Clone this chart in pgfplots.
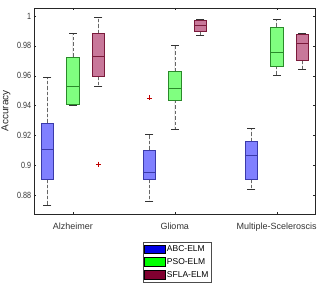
\documentclass[border=0pt]{standalone}
\usepackage{pgfplots}
\pgfplotsset{compat=1.18}
\usepgfplotslibrary{statistics}
\usepackage{fontspec}
\setmainfont{Liberation Sans}
\definecolor{abcfill}{HTML}{8080FF}
\definecolor{abcedge}{HTML}{3A3AAA}
\definecolor{psofill}{HTML}{80FF80}
\definecolor{psoedge}{HTML}{2A8A2A}
\definecolor{sflfill}{HTML}{C8789A}
\definecolor{sfledge}{HTML}{7A1A3A}
\definecolor{abcleg}{HTML}{0000E6}
\definecolor{psoleg}{HTML}{00FF00}
\definecolor{sflleg}{HTML}{800030}
\definecolor{axgray}{HTML}{262626}
\begin{document}
\begin{tikzpicture}
\begin{axis}[
  scale only axis, width=281pt, height=206pt,
  xmin=0.62, xmax=3.375, ymin=0.8673, ymax=1.0054,
  xtick={1,2,3}, xticklabels={Alzheimer,Glioma,Multiple-Sceleroscis},
  ytick={0.88,0.9,0.92,0.94,0.96,0.98,1},
  tick align=inside, major tick length=2pt,
  axis line style={axgray, line width=0.4pt},
  tick style={axgray, line width=0.4pt},
  font=\fontsize{9pt}{10pt}\selectfont,
  /pgf/number format/assume math mode=true,
  ticklabel style={font=\fontsize{9pt}{10pt}\selectfont, text=black!80},
  xticklabel style={yshift=-5pt},
  yticklabel style={xscale=0.8},
  ylabel={Accuracy},
  y label style={at={(axis description cs:-0.0996,0.5)}, anchor=center, font=\fontsize{10pt}{11pt}\selectfont, text=black!85},
  boxplot/draw direction=y,
  boxplot/box extend=0.125,
  boxplot/whisker extend=0,
  boxplot/every whisker/.style={black!60, dash pattern=on 3.5pt off 2pt, line width=0.5pt},
  legend style={at={(0.509,-0.135)}, anchor=north, draw=black!70, font=\fontsize{8.5pt}{9pt}\selectfont, inner sep=1.2pt, row sep=0pt, cells={anchor=west}, nodes={inner ysep=2.6pt, inner xsep=1.5pt}},
  legend image code/.code={\fill[#1] (0pt,-4pt) rectangle (21pt,4.5pt);},
  clip=false,
]
% ABC-ELM
\addplot[forget plot, draw=abcedge, fill=abcfill, boxplot prepared={draw position=0.75, lower whisker=0.8733, lower quartile=0.8905, median=0.9108, upper quartile=0.9285, upper whisker=0.9593}] coordinates {};
\addplot[forget plot, draw=abcedge, fill=abcfill, boxplot prepared={draw position=1.75, lower whisker=0.876, lower quartile=0.8905, median=0.8952, upper quartile=0.9104, upper whisker=0.9209}] coordinates {};
\addplot[forget plot, draw=abcedge, fill=abcfill, boxplot prepared={draw position=2.75, lower whisker=0.8838, lower quartile=0.8905, median=0.9068, upper quartile=0.9162, upper whisker=0.9247}] coordinates {};
% PSO-ELM
\addplot[forget plot, draw=psoedge, fill=psofill, boxplot prepared={draw position=1, lower whisker=0.9405, lower quartile=0.9408, median=0.9529, upper quartile=0.9727, upper whisker=0.9888}] coordinates {};
\addplot[forget plot, draw=psoedge, fill=psofill, boxplot prepared={draw position=2, lower whisker=0.924, lower quartile=0.9439, median=0.9517, upper quartile=0.9629, upper whisker=0.9804}] coordinates {};
\addplot[forget plot, draw=psoedge, fill=psofill, boxplot prepared={draw position=3, lower whisker=0.9602, lower quartile=0.9667, median=0.9759, upper quartile=0.9928, upper whisker=0.9978}] coordinates {};
% SFLA-ELM
\addplot[forget plot, draw=sfledge, fill=sflfill, boxplot prepared={draw position=1.25, lower whisker=0.9529, lower quartile=0.9596, median=0.973, upper quartile=0.9884, upper whisker=0.9991}] coordinates {};
\addplot[forget plot, draw=sfledge, fill=sflfill, boxplot prepared={draw position=2.25, lower whisker=0.987, lower quartile=0.9897, median=0.994, upper quartile=0.9969, upper whisker=0.9978}] coordinates {};
\addplot[forget plot, draw=sfledge, fill=sflfill, boxplot prepared={draw position=3.25, lower whisker=0.9645, lower quartile=0.9705, median=0.9821, upper quartile=0.9877, upper whisker=0.9886}] coordinates {};
% whisker caps
\addplot[forget plot, only marks, mark=-, mark size=4pt, black!80, mark options={line width=0.5pt}] coordinates {
(0.75,0.8733) (0.75,0.9593) (1.75,0.876) (1.75,0.9209) (2.75,0.8838) (2.75,0.9247)
(1,0.9405) (1,0.9888) (2,0.924) (2,0.9804) (3,0.9602) (3,0.9978)
(1.25,0.9529) (1.25,0.9991) (2.25,0.987) (2.25,0.9978) (3.25,0.9645) (3.25,0.9886)};
% outliers
\addplot[forget plot, only marks, mark=+, mark size=2.5pt, red!75!black, mark options={line width=0.4pt}] coordinates {(1.25,0.9008) (1.75,0.9452)};
\addlegendimage{fill=abcleg}\addlegendentry{ABC-ELM}
\addlegendimage{fill=psoleg}\addlegendentry{PSO-ELM}
\addlegendimage{fill=sflleg}\addlegendentry{SFLA-ELM}
\end{axis}
\pgfresetboundingbox
\path (current axis.south west) ++(-34pt,-74pt) rectangle ++(325pt,288pt);
\end{tikzpicture}
\end{document}
